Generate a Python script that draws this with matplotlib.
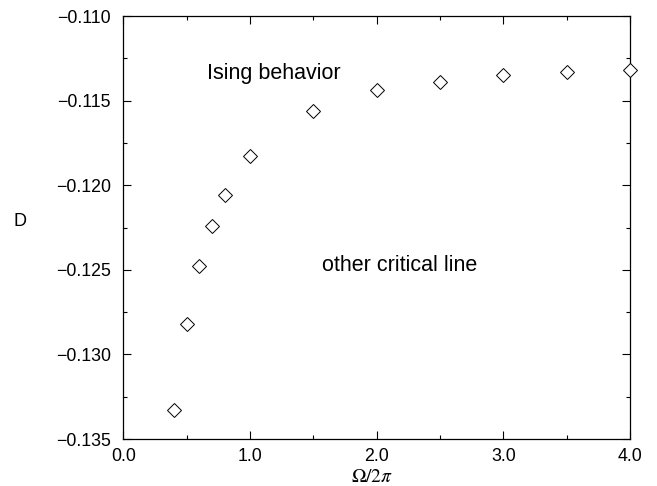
import matplotlib
matplotlib.use("Agg")
import matplotlib.pyplot as plt
from matplotlib.ticker import MultipleLocator, FuncFormatter

# Omega / 2pi values and the corresponding D on the transition line
omega = [0.4, 0.5, 0.6, 0.7, 0.8, 1.0, 1.5, 2.0, 2.5, 3.0, 3.5, 4.0]
D = [-0.1333, -0.1282, -0.1248, -0.1224, -0.1206, -0.1183,
     -0.1156, -0.1144, -0.1139, -0.1135, -0.1133, -0.1132]

plt.rcParams['font.family'] = ['Liberation Sans', 'DejaVu Sans']
plt.rcParams['mathtext.fontset'] = 'stix'
plt.rcParams['axes.unicode_minus'] = True

fig = plt.figure(figsize=(6.57, 4.86), dpi=100)
ax = fig.add_axes([123.3 / 657, 1 - 439 / 486, (630 - 123.3) / 657, (439 - 16) / 486])

ax.plot(omega, D, linestyle='none', marker='D', markersize=7,
        markerfacecolor='white', markeredgecolor='black', markeredgewidth=0.7,
        clip_on=False, zorder=3)

ax.set_xlim(0.0, 4.0)
ax.set_ylim(-0.135, -0.110)
ax.xaxis.set_major_locator(MultipleLocator(1.0))
ax.xaxis.set_minor_locator(MultipleLocator(0.5))
ax.yaxis.set_major_locator(MultipleLocator(0.005))
ax.yaxis.set_minor_locator(MultipleLocator(0.0025))
ax.xaxis.set_major_formatter(FuncFormatter(lambda v, p: f"{v:.1f}"))
ax.yaxis.set_major_formatter(FuncFormatter(lambda v, p: f"{v:.3f}".replace('-', '\u2212')))

ax.tick_params(which='both', direction='in', top=True, right=True,
               labelsize=12.8, width=0.8, colors='black')
ax.tick_params(which='major', length=6)
ax.tick_params(which='minor', length=3)
ax.tick_params(axis='y', which='major', pad=9)
ax.tick_params(axis='x', which='major', pad=6.5)
for s in ax.spines.values():
    s.set_linewidth(0.9)

ax.set_ylabel('D', fontsize=13, rotation=0, va='center', ha='center')
ax.yaxis.set_label_coords((20 - 123.3) / 506.7, 1 - (221 - 16) / 423)
ax.set_xlabel(r'$\Omega/2\pi$', fontsize=14)
ax.xaxis.set_label_coords(0.49, -(477 - 439) / 423)
ax.xaxis.label.set_va('center')

ax.text(0.66, -0.11337, 'Ising behavior', fontsize=15.5, va='center', ha='left')
ax.text(1.566, -0.12472, 'other critical line', fontsize=15.5, va='center', ha='left')

fig.savefig('out.png', dpi=100)
